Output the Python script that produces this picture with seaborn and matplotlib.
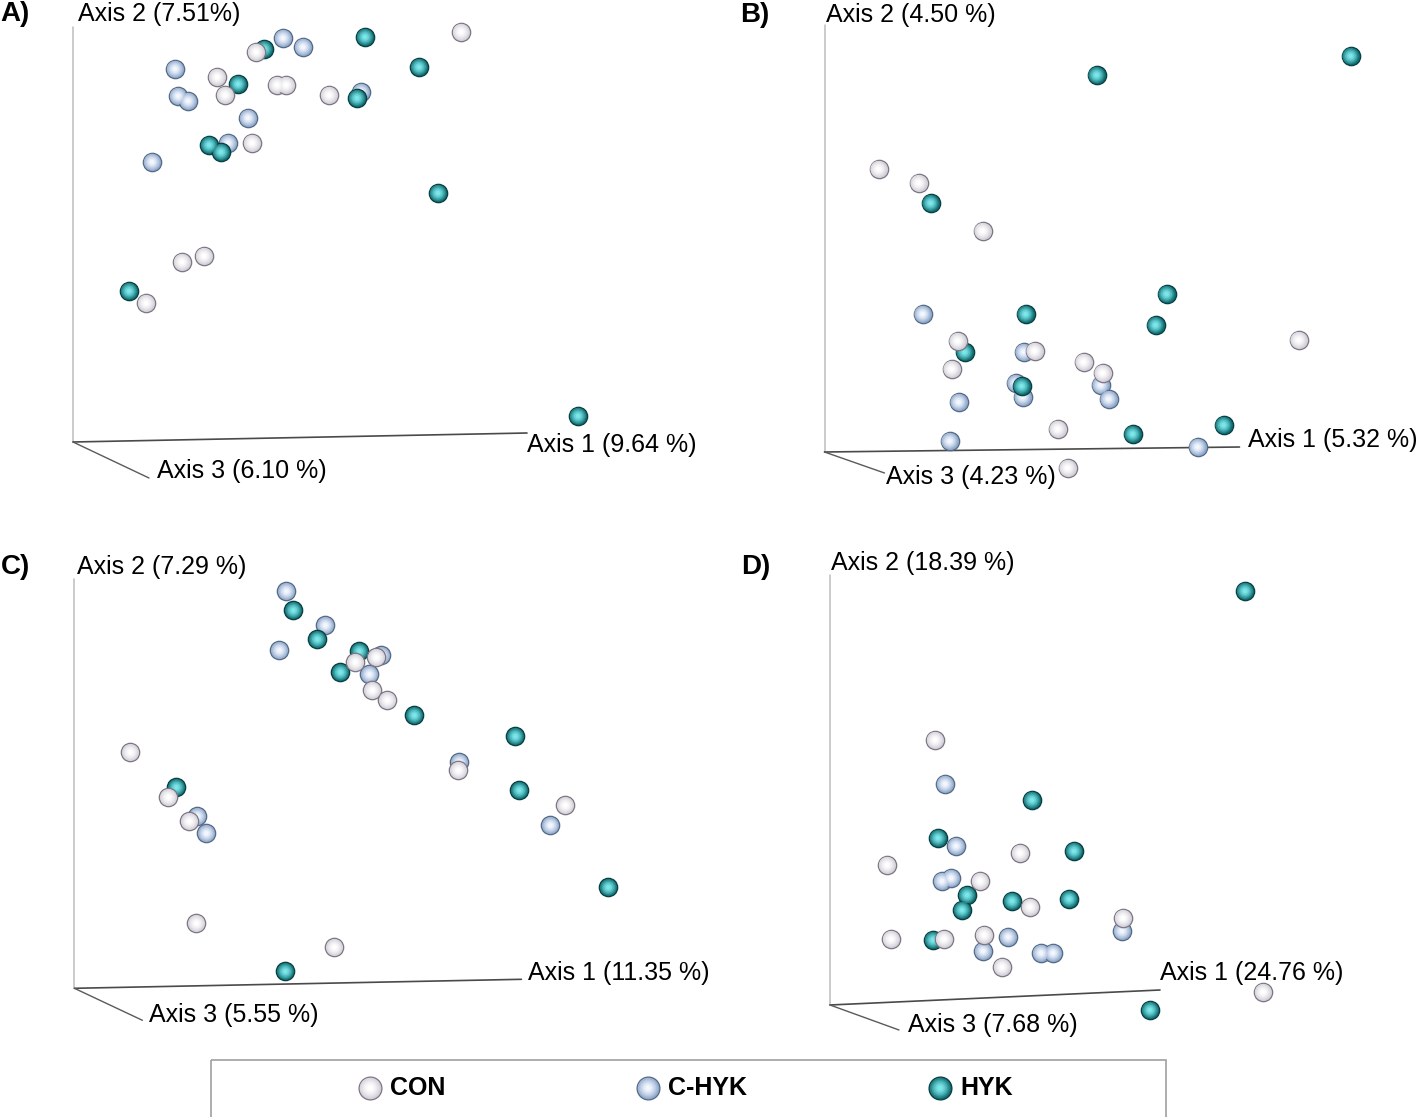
import numpy as np
import pandas as pd
import matplotlib.pyplot as plt
import matplotlib.colors as mcolors
import seaborn as sns
from matplotlib.patches import Rectangle

groups = ["CON", "C-HYK", "HYK"]

# projected PCoA scores, screen plane of each 3D view (origin = axes corner)
a_con_x = [388, 183, 144, 152, 204, 213, 256, 179, 109, 131, 73]
a_con_y = [410, 390, 365, 347, 357, 357, 347, 299, 180, 186, 139]
a_chyk_x = [210, 230, 102, 105, 115, 175, 155, 79, 288]
a_chyk_y = [404, 395, 373, 346, 341, 324, 299, 280, 350]
a_hyk_x = [191, 292, 346, 165, 284, 136, 148, 365, 56, 505]
a_hyk_y = [393, 405, 375, 358, 344, 297, 290, 249, 151, 26]

b_con_x = [54, 94, 158, 474, 133, 210, 127, 259, 278, 233, 243]
b_con_y = [283, 269, 221, 112, 111, 101, 83, 90, 79, 23, -16]
b_chyk_x = [98, 199, 191, 198, 276, 284, 134, 125, 373]
b_chyk_y = [138, 100, 69, 55, 67, 53, 50, 11, 5]
b_hyk_x = [526, 272, 106, 342, 201, 331, 140, 197, 399, 308]
b_hyk_y = [396, 377, 249, 158, 138, 127, 100, 66, 27, 18]

c_con_x = [281, 302, 298, 313, 56, 384, 94, 115, 491, 122, 260]
c_con_y = [326, 331, 298, 288, 236, 218, 191, 167, 183, 65, 41]
c_chyk_x = [212, 251, 205, 307, 295, 385, 123, 132, 476]
c_chyk_y = [397, 363, 338, 333, 314, 226, 172, 155, 163]
c_hyk_x = [219, 243, 285, 266, 340, 441, 445, 102, 534, 211]
c_hyk_y = [378, 349, 337, 316, 273, 252, 198, 201, 101, 17]

d_con_x = [105, 190, 57, 150, 200, 293, 61, 114, 154, 172, 433]
d_con_y = [265, 152, 140, 124, 98, 87, 66, 66, 70, 38, 13]
d_chyk_x = [115, 126, 112, 121, 178, 153, 211, 223, 292]
d_chyk_y = [221, 159, 124, 127, 68, 54, 52, 52, 74]
d_hyk_x = [415, 202, 108, 244, 137, 182, 239, 132, 103, 320]
d_hyk_y = [414, 205, 167, 154, 110, 104, 106, 95, 65, -5]

axis1_labels = ["Axis 1 (9.64 %)", "Axis 1 (5.32 %)", "Axis 1 (11.35 %)", "Axis 1 (24.76 %)"]
axis2_labels = ["Axis 2 (7.51%)", "Axis 2 (4.50 %)", "Axis 2 (7.29 %)", "Axis 2 (18.39 %)"]
axis3_labels = ["Axis 3 (6.10 %)", "Axis 3 (4.23 %)", "Axis 3 (5.55 %)", "Axis 3 (7.68 %)"]
panel_tags = ["A)", "B)", "C)", "D)"]

rows = []
for tag, sets in zip(panel_tags, [
        [(a_con_x, a_con_y), (a_chyk_x, a_chyk_y), (a_hyk_x, a_hyk_y)],
        [(b_con_x, b_con_y), (b_chyk_x, b_chyk_y), (b_hyk_x, b_hyk_y)],
        [(c_con_x, c_con_y), (c_chyk_x, c_chyk_y), (c_hyk_x, c_hyk_y)],
        [(d_con_x, d_con_y), (d_chyk_x, d_chyk_y), (d_hyk_x, d_hyk_y)]]):
    for g, (xs, ys) in zip(groups, sets):
        for x, y in zip(xs, ys):
            rows.append({"panel": tag, "group": g, "x": x, "y": y})
df = pd.DataFrame(rows)

# sphere look: dark rim -> body -> highlight
sphere = {
    "CON": {"edge": "#7c7782", "base": "#d2ced8", "hi": "#ffffff"},
    "C-HYK": {"edge": "#566a86", "base": "#8ea8cb", "hi": "#f2f7ff"},
    "HYK": {"edge": "#0a3e41", "base": "#0e6c70", "hi": "#7ae6ea"},
}
draw_order = ["C-HYK", "HYK", "CON"]

W, H = 1417, 1117
# panel boxes in pixels (left, top, width, height) and axis origin
boxes = [(0, 0, 712, 505), (712, 0, 705, 505), (0, 530, 730, 520), (730, 530, 687, 530)]
origins = [(73, 442), (824.5, 452), (74.4, 988.3), (830, 1005)]
# ends of the drawn axes: axis 2 height, axis 1 end, axis 3 end
ax2_top = [415, 427, 409, 430]
ax1_end = [(454, 9), (415, 5), (447, 9), (330, 15)]
ax3_end = [(76, -36), (60, -21), (68, -32), (69, -25)]
lab2_pos = [(5, 428), (2, 437), (3, 421), (1, 442)]
lab1_pos = [(454, -3), (424, 12), (454, 15), (330, 32)]
lab3_pos = [(84, -29), (62, -25), (75, -27), (78, -20)]
tag_pos = [(-73, 428), (-84, 437), (-74, 421), (-89, 438)]

sns.set_style("white")
plt.rcParams["font.family"] = ["Liberation Sans", "DejaVu Sans"]
plt.rcParams["text.color"] = "black"

fig = plt.figure(figsize=(W / 100, H / 100), dpi=100)


def sphere_layers(st):
    base = np.array(mcolors.to_rgb(st["base"]))
    hi = np.array(mcolors.to_rgb(st["hi"]))
    out = [(1.0, st["base"], st["edge"], 0.9)]
    for f, t in [(0.78, 0.2), (0.56, 0.42), (0.36, 0.65), (0.18, 0.85), (0.06, 1.0)]:
        out.append((f, tuple(base + (hi - base) * t), "none", 0))
    return out


def draw_spheres(ax, d, st, z, size):
    for k, (f, fc, ec, lw) in enumerate(sphere_layers(st)):
        sns.scatterplot(data=d, x="x", y="y", s=size * f, color=fc, edgecolor=ec,
                        linewidth=lw, ax=ax, zorder=z + k, legend=False)


for i, tag in enumerate(panel_tags):
    l, t, w, h = boxes[i]
    ox, oy = origins[i]
    ax = fig.add_axes([l / W, 1 - (t + h) / H, w / W, h / H])
    ax.set_xlim(l - ox, l + w - ox)
    ax.set_ylim(oy - (t + h), oy - t)
    ax.axis("off")

    ax.plot([0, 0], [0, ax2_top[i]], color="#bdbdbd", lw=1.1, zorder=1)
    ax.plot([0, ax1_end[i][0]], [0, ax1_end[i][1]], color="#4a4a4a", lw=1.2, zorder=1)
    ax.plot([0, ax3_end[i][0]], [0, ax3_end[i][1]], color="#5a5a5a", lw=1.0, zorder=1)

    sub = df[df["panel"] == tag]
    for j, g in enumerate(draw_order):
        draw_spheres(ax, sub[sub["group"] == g], sphere[g], 3 + 7 * j, 175)

    ax.text(*lab2_pos[i], axis2_labels[i], fontsize=18, ha="left", va="center", zorder=40)
    ax.text(*lab1_pos[i], axis1_labels[i], fontsize=18, ha="left", va="center", zorder=40)
    ax.text(*lab3_pos[i], axis3_labels[i], fontsize=18, ha="left", va="center", zorder=40)
    ax.text(*tag_pos[i], tag, fontsize=20, fontweight="bold", ha="left", va="center", zorder=40)

# legend box at the bottom
lax = fig.add_axes([0, 0, 1, 1], zorder=5)
lax.set_xlim(0, W)
lax.set_ylim(H, 0)
lax.axis("off")
lax.add_patch(Rectangle((211, 1060), 955, 80, facecolor="none", edgecolor="#a0a0a0", lw=1.2))
leg_x = [370, 648, 940]
for g, lx in zip(groups, leg_x):
    for k, (f, fc, ec, lw) in enumerate(sphere_layers(sphere[g])):
        lax.scatter([lx], [1088], s=270 * f, color=fc, edgecolor=ec, linewidth=lw, zorder=5 + k)
    lax.text(lx + 20, 1088, g, fontsize=18, fontweight="bold", ha="left", va="center")

fig.savefig("out.png", dpi=100, facecolor="white")
